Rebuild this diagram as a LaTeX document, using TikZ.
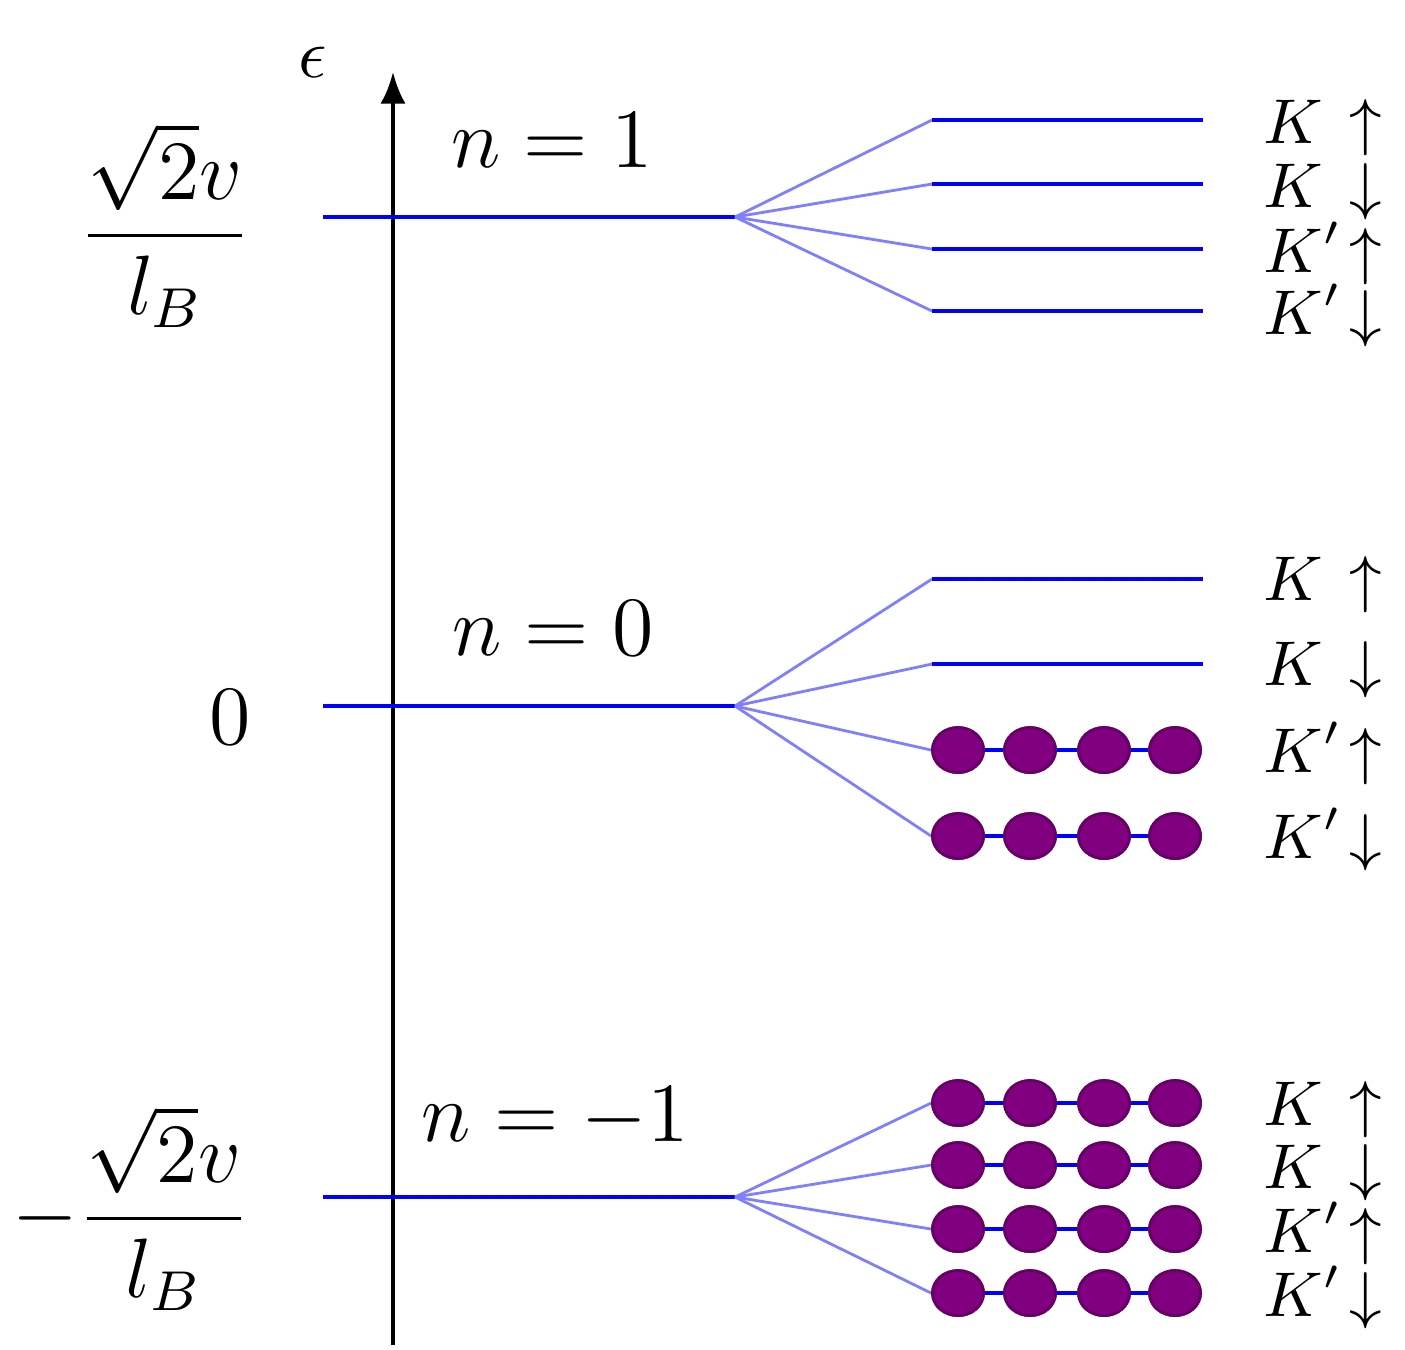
\documentclass[tikz,border=0pt]{standalone}
\usepackage{amsmath}
\usetikzlibrary{positioning,shapes.geometric,arrows.meta}

\definecolor{dotpurple}{RGB}{128,0,128}

\tikzset{
  level/.style={blue,semithick},
  split/.style={blue!50,thin},
  dot/.style={ellipse,fill=dotpurple,draw=dotpurple!80!black,thin,
    minimum width=0.255cm,minimum height=0.225cm,inner sep=0pt},
  spin/.style={anchor=west,inner sep=0pt,font=\fontsize{9.2}{11}\selectfont},
  big/.style={font=\fontsize{11.5}{14}\selectfont}
}

\begin{document}
\begin{tikzpicture}[x=0.5cm,y=-0.5cm]
\useasboundingbox (0,0) rectangle (14.05,13.49);

% Energy axis
\coordinate (axbot) at (3.93,13.45);
\coordinate (axtop) at (3.93,0.72);
\draw[semithick,-{Latex[length=4.5pt,width=3.6pt]}] (axbot) -- (axtop);
\node (eps) at (3.13,0.62) {$\epsilon$};

% Landau levels
\foreach \nm/\y in {top/2.17,mid/7.06,bot/11.97}{
  \coordinate (\nm-l) at (3.23,\y);
  \coordinate (\nm-f) at (7.35,\y);
  \draw[level] (\nm-l) -- (\nm-f);
}

\node[big] (etop) at (1.65,2.25) {$\dfrac{\sqrt{2}v}{l_B}$};
\node[big] (emid) at (2.30,7.17) {$0$};
\node[big] (ebot) at (1.31,12.08) {$-\dfrac{\sqrt{2}v}{l_B}$};

\node[big] (ntop) at (5.52,1.40) {$n=1$};
\node[big] (nmid) at (5.53,6.28) {$n=0$};
\node[big] (nbot) at (5.55,11.18) {$n=-1$};

% Split levels, n = 1 (empty)
\foreach \i/\y in {1/1.20,2/1.84,3/2.49,4/3.11}{
  \coordinate (top\i-a) at (9.32,\y);
  \coordinate (top\i-b) at (12.03,\y);
  \draw[split] (top-f) -- (top\i-a);
  \draw[level] (top\i-a) -- (top\i-b);
}

% Split levels, n = 0 (K empty, K' filled)
\foreach \i/\y in {1/5.79,2/6.64}{
  \coordinate (mid\i-a) at (9.32,\y);
  \coordinate (mid\i-b) at (12.03,\y);
  \draw[split] (mid-f) -- (mid\i-a);
  \draw[level] (mid\i-a) -- (mid\i-b);
}
\foreach \i/\y in {3/7.50,4/8.36}{
  \foreach \k/\x in {1/9.58,2/10.30,3/11.04,4/11.75}
    \node[dot] (mid\i-\k) at (\x,\y) {};
  \draw[split] (mid-f) -- (mid\i-1.west);
  \draw[level] (mid\i-1) -- (mid\i-2) -- (mid\i-3) -- (mid\i-4);
  \foreach \k in {1,...,4} \node[dot] at (mid\i-\k) {};
}

% Split levels, n = -1 (all filled)
\foreach \i/\y in {1/11.03,2/11.65,3/12.29,4/12.93}{
  \foreach \k/\x in {1/9.58,2/10.30,3/11.04,4/11.75}
    \node[dot] (bot\i-\k) at (\x,\y) {};
  \draw[split] (bot-f) -- (bot\i-1.west);
  \draw[level] (bot\i-1) -- (bot\i-2) -- (bot\i-3) -- (bot\i-4);
  \foreach \k in {1,...,4} \node[dot] at (bot\i-\k) {};
}

% Valley / spin labels
\foreach \nm/\a/\b/\c/\d in {top/1.24/1.88/2.53/3.15,mid/5.81/6.66/7.53/8.39,bot/11.06/11.69/12.33/12.97}{
  \node[spin] (\nm-Ku) at (12.62,\a) {$K\phantom{'}\!\uparrow$};
  \node[spin] (\nm-Kd) at (12.62,\b) {$K\phantom{'}\!\downarrow$};
  \node[spin] (\nm-Pu) at (12.62,\c) {$K'\!\uparrow$};
  \node[spin] (\nm-Pd) at (12.62,\d) {$K'\!\downarrow$};
}
\end{tikzpicture}
\end{document}
